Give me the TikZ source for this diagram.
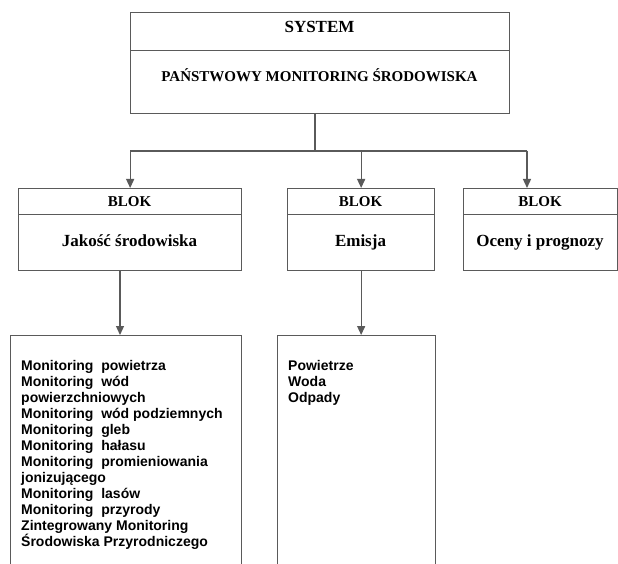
\documentclass[tikz,border=0pt]{standalone}
\usepackage{fontspec}
\setmainfont{Liberation Serif}[BoldFont={Liberation Serif Bold}]
\newfontfamily\listfont{Liberation Sans}[BoldFont={Liberation Sans Bold}]
\usetikzlibrary{arrows.meta}
\definecolor{linegray}{RGB}{90,90,90}
\begin{document}
\begin{tikzpicture}[x=1pt,y=-1pt,
  line/.style={draw=linegray, line width=1.3pt},
  boxpart/.style={line, rectangle, inner sep=0pt, anchor=north west},
  serifbig/.style={font=\bfseries\fontsize{17}{20}\selectfont, anchor=base, inner sep=0pt},
  serifsmall/.style={font=\bfseries\fontsize{15}{18}\selectfont, anchor=base, inner sep=0pt},
  listtext/.style={font=\listfont\bfseries\fontsize{14}{16}\selectfont, align=left, anchor=north west, inner sep=0pt},
  arr/.style={line, -{Triangle[length=9pt 0,width=8pt 0]}, fill=black}]
\useasboundingbox (0,0) rectangle (618,564);
\clip (0,0) rectangle (618,564);

% top system box
\node[boxpart, minimum width=379pt, minimum height=38pt] (sysT) at (130,12) {};
\node[boxpart, minimum width=379pt, minimum height=63pt] (sysB) at (130,50) {};
\node[serifbig] (tSys) at (319.5,33) {SYSTEM};
\node[serifsmall] (tPMS) at (319.5,82) {PAŃSTWOWY MONITORING ŚRODOWISKA};

% blocks
\node[boxpart, minimum width=223pt, minimum height=26pt] (b1t) at (18,188) {};
\node[boxpart, minimum width=223pt, minimum height=56pt] (b1b) at (18,214) {};
\node[boxpart, minimum width=147pt, minimum height=26pt] (b2t) at (287,188) {};
\node[boxpart, minimum width=147pt, minimum height=56pt] (b2b) at (287,214) {};
\node[boxpart, minimum width=154pt, minimum height=26pt] (b3t) at (463,188) {};
\node[boxpart, minimum width=154pt, minimum height=56pt] (b3b) at (463,214) {};

\node[serifsmall] (k1) at (129.5,207) {BLOK};
\node[serifsmall] (k2) at (360.5,207) {BLOK};
\node[serifsmall] (k3) at (540,207) {BLOK};
\node[serifbig] (n1) at (129.5,246) {Jakość środowiska};
\node[serifbig] (n2) at (360.5,246) {Emisja};
\node[serifbig] (n3) at (540,246) {Oceny i prognozy};

% lower list boxes (open at the bottom edge)
\node[boxpart, minimum width=231pt, minimum height=260pt] (low1) at (10,335) {};
\node[boxpart, minimum width=158pt, minimum height=260pt] (low2) at (277,335) {};

\node[listtext] (list1) at (21,360) {Monitoring~ powietrza\\
Monitoring~ wód\\
powierzchniowych\\
Monitoring~ wód podziemnych\\
Monitoring~ gleb\\
Monitoring~ hałasu\\
Monitoring~ promieniowania\\
jonizującego\\
Monitoring~ lasów\\
Monitoring~ przyrody\\
Zintegrowany Monitoring\\
Środowiska Przyrodniczego};
\node[listtext] (list2) at (288,360) {Powietrze\\Woda\\Odpady};

% connectors
\coordinate (j) at (315,151);
\coordinate (a3) at (527,188);
\coordinate (d1) at (120,335);
\draw[line] (sysB.south -| j) -- (j);
\draw[line] (j -| b1t.north) -- (j -| a3);
\draw[arr] (j -| b1t.north) -- (b1t.north);
\draw[arr] (j -| b2t.north) -- (b2t.north);
\draw[arr] (j -| a3) -- (a3);
\draw[arr] (b1b.south -| d1) -- (d1);
\draw[arr] (b2b.south) -- (low2.north -| b2b.south);
\end{tikzpicture}
\end{document}
